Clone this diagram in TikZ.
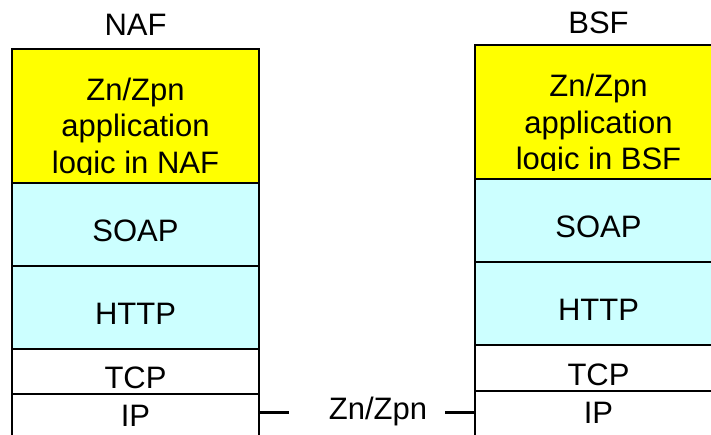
\documentclass[tikz,border=0pt]{standalone}
\usepackage{fontspec}
\setmainfont{Liberation Sans}
\usetikzlibrary{positioning}
\definecolor{appyellow}{HTML}{FFFF00}
\definecolor{protocyan}{HTML}{CCFFFF}

\begin{document}
\begin{tikzpicture}[x=1pt,y=1pt,line width=1.6pt,font=\fontsize{31pt}{36.5pt}\selectfont,
  layer/.style={draw,fill=white,minimum width=247pt,inner sep=0pt,outer sep=0pt},
  proto/.style={layer,text height=34pt,text depth=0pt},
  app/.style={layer,fill=appyellow,minimum height=134pt},
  apptext/.style={inner sep=0pt,anchor=base},
  link/.style={line width=3pt}]
  \useasboundingbox (0,0) rectangle (711,-434);
  \clip (0,0) rectangle (711,-434);
  % NAF stack
  \node[app, anchor=north] (nafapp) at (135.5,-49) {};
  \begin{scope}
    \clip (nafapp.north west) rectangle ([yshift=9pt]nafapp.south east);
    \node[apptext] (naftext) at ([yshift=-51pt]nafapp.north)
      {\begin{tabular}[t]{@{}c@{}}Zn/Zpn\\application\\logic in NAF\end{tabular}};
  \end{scope}
  \node[proto, fill=protocyan, minimum height=83pt, below=0pt of nafapp] (nafsoap) {SOAP};
  \node[proto, fill=protocyan, minimum height=83pt, below=0pt of nafsoap] (nafhttp) {HTTP};
  \node[proto, minimum height=45pt, below=0pt of nafhttp] (naftcp) {TCP};
  \node[proto, minimum height=45pt, text height=20pt, below=0pt of naftcp] (nafip) {IP};
  \node[inner sep=0pt, above=13pt of nafapp] (naf) {NAF};
  % BSF stack
  \node[app, anchor=north] (bsfapp) at (598.5,-45) {};
  \begin{scope}
    \clip (bsfapp.north west) rectangle ([yshift=9pt]bsfapp.south east);
    \node[apptext] (bsftext) at ([yshift=-51.5pt]bsfapp.north)
      {\begin{tabular}[t]{@{}c@{}}Zn/Zpn\\application\\logic in BSF\end{tabular}};
  \end{scope}
  \node[proto, fill=protocyan, minimum height=83pt, below=0pt of bsfapp] (bsfsoap) {SOAP};
  \node[proto, fill=protocyan, minimum height=83pt, below=0pt of bsfsoap] (bsfhttp) {HTTP};
  \node[proto, minimum height=46pt, below=0pt of bsfhttp] (bsftcp) {TCP};
  \node[proto, minimum height=45pt, text height=20pt, below=0pt of bsftcp] (bsfip) {IP};
  \node[inner sep=0pt, above=10pt of bsfapp] (bsf) {BSF};
  % reference point
  \coordinate (linkl) at (289,-412);
  \coordinate (linkr) at (445,-412);
  \node[inner sep=0pt, anchor=base] (zn) at (378,-419) {Zn/Zpn};
  \draw[link] (nafip.east |- linkl) -- (linkl);
  \draw[link] (linkr) -- (bsfip.west |- linkr);
\end{tikzpicture}
\end{document}
